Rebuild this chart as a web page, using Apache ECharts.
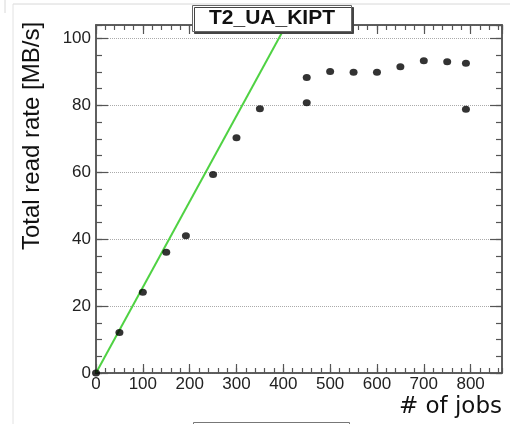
<!DOCTYPE html>
<html>
<head>
<meta charset="utf-8">
<script src="https://cdn.jsdelivr.net/npm/echarts@6/dist/echarts.min.js"></script>
<style>
  html, body { margin: 0; padding: 0; background: #fff; }
  #chart { width: 510px; height: 424px; }
</style>
</head>
<body>
<div id="chart"></div>
<script>
// Measured read throughput versus number of concurrent jobs
const jobs = [0, 50, 100, 150, 192, 250, 300, 350, 450, 450, 500, 550, 600, 650, 700, 750, 790, 790];
const rate = [0, 12.1, 24.1, 36.1, 41.0, 59.3, 70.3, 79.0, 80.8, 88.3, 90.1, 89.9, 89.9, 91.5, 93.3, 93.0, 92.6, 78.8];

// Linear fit through the low-load points (end points of the line)
const fitJobs = [0, 406];
const fitRate = [0, 104];

const siteName = 'T2_UA_KIPT';
const xTitle = '# of jobs';
const yTitle = 'Total read rate [MB/s]';

const xMax = 867;
const yMax = 104;

const frameColor = '#555';
const labelFont = 'Liberation Sans, Arial, sans-serif';

const chart = echarts.init(document.getElementById('chart'), null, { renderer: 'canvas' });

function tickAxis(position, interval, len, extra) {
  return Object.assign({
    type: 'value',
    position: position,
    min: 0,
    interval: interval,
    axisLine: { show: true, onZero: false, lineStyle: { color: frameColor, width: 1.5 } },
    axisTick: { show: true, inside: true, length: len, lineStyle: { color: frameColor, width: 1.2 } },
    axisLabel: { show: false },
    splitLine: { show: false }
  }, extra || {});
}

const option = {
  animation: false,
  backgroundColor: '#fff',
  title: {
    text: siteName,
    left: 192,
    top: 5,
    padding: [3, 17, 3, 17],
    backgroundColor: '#fff',
    borderColor: '#666',
    borderWidth: 1,
    shadowColor: '#444',
    shadowOffsetX: 2,
    shadowOffsetY: 2,
    shadowBlur: 0,
    textStyle: { fontFamily: labelFont, fontSize: 21, fontWeight: 'bold', color: '#111' }
  },
  grid: { left: 96, top: 25, right: 8, bottom: 51, containLabel: false },
  xAxis: [
    tickAxis('bottom', 100, 9, {
      max: xMax,
      name: xTitle,
      nameLocation: 'end',
      nameGap: 0,
      nameTextStyle: {
        fontFamily: 'DejaVu Sans, sans-serif', fontSize: 23, color: '#111',
        align: 'right', verticalAlign: 'top', padding: [23, 0, 0, 0]
      },
      axisLabel: {
        show: true, margin: 3, showMaxLabel: false,
        fontFamily: labelFont, fontSize: 17, color: '#222'
      }
    }),
    tickAxis('bottom', 20, 5, { max: xMax }),
    tickAxis('top', 100, 9, { max: xMax }),
    tickAxis('top', 20, 5, { max: xMax })
  ],
  yAxis: [
    tickAxis('left', 20, 12, {
      max: yMax,
      name: yTitle,
      nameLocation: 'middle',
      nameGap: 52,
      nameRotate: 90,
      nameTextStyle: {
        fontFamily: labelFont, fontSize: 24, color: '#111',
        padding: [0, 0, 0, 126]
      },
      axisLabel: {
        show: true, margin: 5, showMaxLabel: false,
        fontFamily: labelFont, fontSize: 17, color: '#222'
      },
      splitLine: { show: true, lineStyle: { color: '#aaa', type: 'dotted', width: 1 } }
    }),
    tickAxis('left', 5, 6, { max: yMax }),
    tickAxis('right', 20, 12, { max: yMax }),
    tickAxis('right', 5, 6, { max: yMax })
  ],
  series: [
    {
      type: 'line',
      name: 'fit',
      xAxisIndex: 0,
      yAxisIndex: 0,
      data: fitJobs.map((x, i) => [x, fitRate[i]]),
      showSymbol: false,
      symbol: 'none',
      clip: true,
      lineStyle: { color: '#4fd243', width: 2 },
      z: 2
    },
    {
      type: 'scatter',
      name: 'rate',
      xAxisIndex: 0,
      yAxisIndex: 0,
      data: jobs.map((x, i) => [x, rate[i]]),
      symbol: 'circle',
      symbolSize: [8, 7],
      itemStyle: { color: '#000' },
      z: 3
    }
  ],
  graphic: [
    // outer canvas frame
    { type: 'line', shape: { x1: 13, y1: 4, x2: 510, y2: 4 }, style: { stroke: '#d8d8d8', lineWidth: 1 }, silent: true },
    { type: 'line', shape: { x1: 13, y1: 4, x2: 13, y2: 424 }, style: { stroke: '#e2e2e2', lineWidth: 1 }, silent: true },
    { type: 'line', shape: { x1: 5, y1: 0, x2: 5, y2: 13 }, style: { stroke: '#d8d8d8', lineWidth: 1 }, silent: true },
    // legend box edge at the bottom
    { type: 'rect', shape: { x: 193.5, y: 422.5, width: 156, height: 20 }, style: { fill: '#fff', stroke: '#777', lineWidth: 1 }, silent: true }
  ]
};

chart.setOption(option);
</script>
</body>
</html>
